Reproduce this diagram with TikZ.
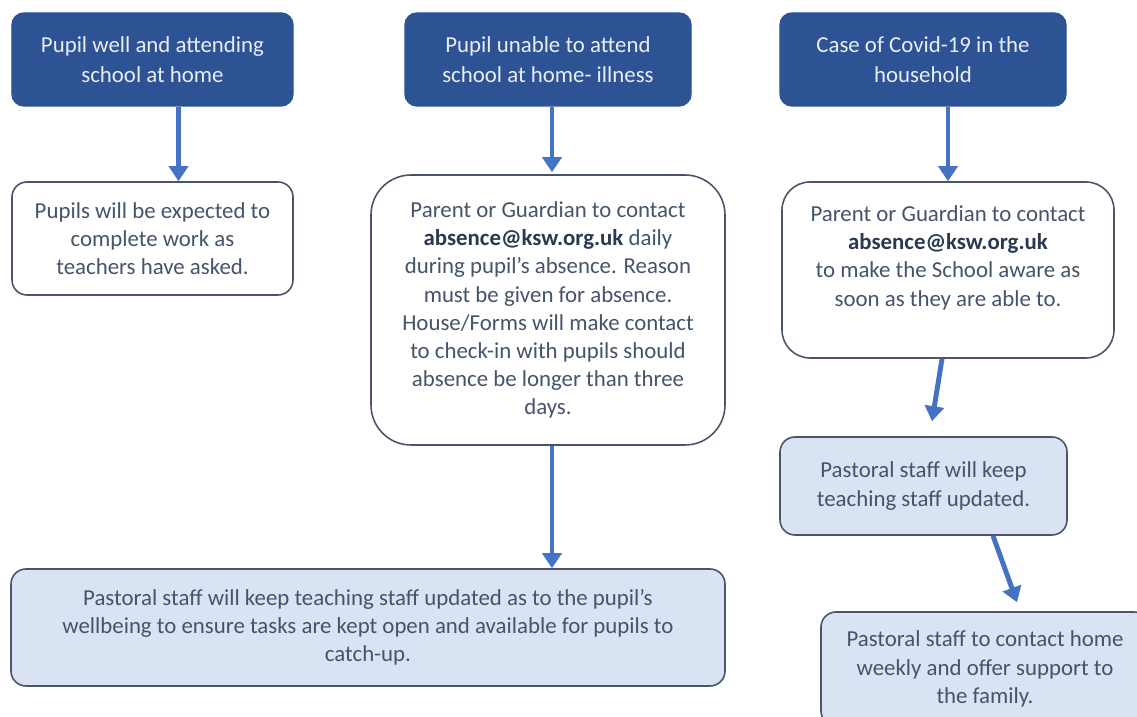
\documentclass[tikz,border=0pt]{standalone}
\usepackage{fontspec}
\setmainfont{Carlito}
\usetikzlibrary{arrows.meta}
\definecolor{headblue}{HTML}{2E5395}
\definecolor{headtext}{HTML}{E9EDF5}
\definecolor{arrowblue}{HTML}{4472C4}
\definecolor{paleblue}{HTML}{DAE3F3}
\definecolor{boxline}{HTML}{4A5568}
\definecolor{bodytext}{HTML}{44546A}
\definecolor{mailtext}{HTML}{2A3950}
\newcommand{\ksmail}{\textbf{\color{mailtext}absence@ksw.org.uk}}

\begin{document}
\begin{tikzpicture}[
  head/.style={
    rectangle, rounded corners=0.12cm, minimum width=2.86cm, minimum height=0.93cm,
    fill=headblue, draw=headblue, text=headtext, align=center,
    font=\fontsize{6.5}{8.6}\selectfont
  },
  info/.style={
    rectangle, rounded corners=0.15cm, fill=white, draw=boxline, line width=0.45pt,
    text=bodytext, align=center, font=\fontsize{6.5}{8}\selectfont
  },
  staff/.style={info, fill=paleblue},
  arrow/.style={-{Triangle[length=0.15cm, width=0.19cm]}, line width=1.4pt, arrowblue}
]

% === Page ===
\clip (0,0) rectangle (11.37,-7.17);
\fill[white] (0,0) rectangle (11.37,-7.17);

% === Situations ===
\node[head, minimum width=2.81cm] (A1) at (1.525, -0.595)
  {Pupil well and attending\\school at home};
\node[head] (A2) at (5.48, -0.595)
  {Pupil unable to attend\\school at home- illness};
\node[head] (A3) at (9.23, -0.595)
  {Case of Covid-19 in the\\household};

% === What happens ===
\node[info, minimum width=2.81cm, minimum height=1.13cm] (B1) at (1.525, -2.385)
  {Pupils will be expected to\\complete work as\\teachers have asked.};
\node[info, rounded corners=0.4cm, minimum width=3.54cm, minimum height=2.70cm] (B2) at (5.48, -3.10)
  {Parent or Guardian to contact\\\ksmail{} daily\\during pupil's absence. Reason\\must be given for absence.\\House/Forms will make contact\\to check-in with pupils should\\absence be longer than three\\days.};
\node[info, rounded corners=0.28cm, minimum width=3.32cm, minimum height=1.76cm] (B3) at (9.48, -2.70)
  {Parent or Guardian to contact\\\ksmail\\to make the School aware as\\soon as they are able to.\\~};

% === Pastoral staff ===
\node[staff, minimum width=7.14cm, minimum height=1.17cm] (C2) at (3.68, -6.275)
  {Pastoral staff will keep teaching staff updated as to the pupil's\\wellbeing to ensure tasks are kept open and available for pupils to\\catch-up.};
\node[staff, minimum width=2.87cm, minimum height=0.98cm] (C3a) at (9.235, -4.86)
  {Pastoral staff will keep\\teaching staff updated.};
\node[staff, minimum width=3.28cm, minimum height=1.14cm] (C3b) at (9.85, -6.69)
  {Pastoral staff to contact home\\weekly and offer support to\\the family.};

% === Arrows ===
\draw[arrow] ([xshift=0.26cm]A1.south) -- ([xshift=0.26cm]B1.north);
\draw[arrow] ([xshift=0.04cm]A2.south) -- ([xshift=0.04cm, yshift=0.02cm]B2.north);
\draw[arrow] (B3.north |- A3.south) -- (B3.north);
\draw[arrow] ([xshift=0.04cm]B2.south) -- ([xshift=0.04cm]B2.south |- C2.north);
\draw[arrow] ([xshift=-0.06cm]B3.south) -- ([xshift=0.085cm, yshift=0.15cm]C3a.north);
\draw[arrow] ([xshift=0.695cm]C3a.south) -- ([xshift=0.32cm, yshift=0.09cm]C3b.north);

\end{tikzpicture}
\end{document}
